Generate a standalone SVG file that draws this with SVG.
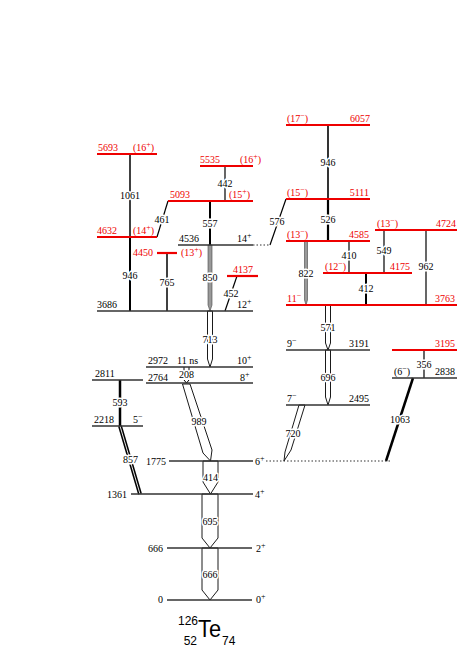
<svg xmlns="http://www.w3.org/2000/svg" width="463" height="668" viewBox="0 0 463 668">
<style>
text{font-family:"Liberation Serif","Times New Roman",serif;font-size:10px;fill:#000}
.r{fill:#e00}
.e{text-anchor:end}
.c{text-anchor:middle}
.tl{text-anchor:middle;stroke:#fff;stroke-width:3;paint-order:stroke;stroke-linejoin:round}
.sp{font-size:8px}
.lv{stroke:#333;stroke-width:1.5;fill:none}
.lr{stroke:#e00;stroke-width:2.2;fill:none}
.dt{stroke:#333;stroke-width:1.2;stroke-dasharray:1.5 2;fill:none}
.tr{stroke:#000;fill:none}
.oa{fill:#fff;stroke:#000;stroke-width:0.9;stroke-linejoin:miter}
.ga{fill:#999;stroke:#444;stroke-width:0.6}
text.ti{font-family:"Liberation Sans",Arial,sans-serif;font-size:12px}
text.tb{font-family:"Liberation Sans",Arial,sans-serif;font-size:23px}
</style>

<g id="connectors">
  <line class="tr" x1="130" y1="154" x2="130" y2="237" stroke-width="1.5"/>
  <line class="tr" x1="130" y1="237" x2="130" y2="311" stroke-width="2"/>
  <line class="tr" x1="157" y1="237" x2="168" y2="201" stroke-width="1.2"/>
  <line class="tr" x1="167" y1="253" x2="167" y2="311" stroke-width="1.5"/>
  <line class="tr" x1="210" y1="201" x2="210" y2="245" stroke-width="2"/>
  <line class="tr" x1="225" y1="166" x2="225" y2="201" stroke-width="1.2"/>
  <line class="tr" x1="237" y1="276" x2="225" y2="311" stroke-width="1.2"/>
  <line class="tr" x1="120" y1="380" x2="120" y2="426" stroke-width="2.5"/>
  <line class="tr" x1="328" y1="125" x2="328" y2="199" stroke-width="1.6"/>
  <line class="tr" x1="328" y1="199" x2="328" y2="241" stroke-width="2.2"/>
  <line class="tr" x1="270" y1="245" x2="286" y2="199" stroke-width="1.2"/>
  <line class="tr" x1="349" y1="241" x2="349" y2="273" stroke-width="1.2"/>
  <line class="tr" x1="384" y1="230" x2="384" y2="273" stroke-width="1.2"/>
  <line class="tr" x1="366" y1="273" x2="366" y2="305" stroke-width="2"/>
  <line class="tr" x1="426" y1="230" x2="426" y2="305" stroke-width="1.2"/>
  <line class="tr" x1="424" y1="350" x2="424" y2="378" stroke-width="1.2"/>
  <line class="tr" x1="413" y1="378" x2="386" y2="461" stroke-width="2.5"/>
  <line class="tr" x1="120" y1="426" x2="140" y2="494" stroke-width="4"/>
  <line x1="120" y1="426" x2="140" y2="494" stroke="#fff" stroke-width="0.9"/>
  <polygon class="ga" points="208,245 208,305 210,311 212,305 212,245"/>
  <polygon class="ga" points="304.5,241 304.5,300 306,305 307.5,300 307.5,241"/>
  <polygon class="oa" points="207.5,311 207.5,359 210,367 212.5,359 212.5,311"/>
  <polygon class="oa" points="325.5,305 325.5,343 328,350 330.5,343 330.5,305"/>
  <polygon class="oa" points="325.5,350 325.5,397 328,405 330.5,397 330.5,350"/>
  <polygon class="oa" points="203,461 203,482 210.5,494 218,482 218,461"/>
  <polygon class="oa" points="202,494 202,538 210,548 218,538 218,494"/>
  <polygon class="oa" points="202,548 202,590 210,600 218,590 218,548"/>
  <polygon class="oa" points="182.5,384 203,453 210.5,461 212,450 190,384"/>
  <polygon class="oa" points="299,405 285,452 284,461 291,450 305,405"/>
  <line class="tr" x1="184" y1="367" x2="184" y2="372" stroke-width="1"/>
  <line class="tr" x1="189" y1="367" x2="189" y2="372" stroke-width="1"/>
  <polyline class="tr" points="184,380 186.5,383 189,380" stroke-width="1"/>
  <line class="dt" x1="266" y1="461" x2="392" y2="461"/>
  <line class="dt" x1="253" y1="245" x2="270" y2="245"/>

  <text class="tl" x="130" y="199">1061</text>
  <text class="tl" x="130" y="279">946</text>
  <text class="tl" x="162" y="223">461</text>
  <text class="tl" x="167" y="286">765</text>
  <text class="tl" x="210" y="227">557</text>
  <text class="tl" x="225" y="187">442</text>
  <text class="tl" x="210" y="281">850</text>
  <text class="tl" x="231" y="297">452</text>
  <text class="tl" x="210" y="343">713</text>
  <text class="tl" x="186.5" y="378">208</text>
  <text class="tl" x="120" y="406">593</text>
  <text class="tl" x="199" y="425">989</text>
  <text class="tl" x="130.5" y="463">857</text>
  <text class="tl" x="210.5" y="481">414</text>
  <text class="tl" x="210" y="525">695</text>
  <text class="tl" x="210" y="578">666</text>
  <text class="tl" x="328" y="166">946</text>
  <text class="tl" x="328" y="223">526</text>
  <text class="tl" x="277" y="225">576</text>
  <text class="tl" x="349" y="259">410</text>
  <text class="tl" x="384" y="254">549</text>
  <text class="tl" x="426" y="270">962</text>
  <text class="tl" x="306" y="277">822</text>
  <text class="tl" x="366" y="292">412</text>
  <text class="tl" x="328" y="331">571</text>
  <text class="tl" x="328" y="381">696</text>
  <text class="tl" x="293" y="437">720</text>
  <text class="tl" x="424" y="368">356</text>
  <text class="tl" x="400" y="423">1063</text>
</g>

<g id="lvl-0"><line class="lv" x1="167" y1="600" x2="252" y2="600"/><text class="e" x="163" y="603">0</text><text x="256" y="603">0<tspan class="sp" dy="-4">+</tspan></text></g>
<g id="lvl-666"><line class="lv" x1="167" y1="548" x2="252" y2="548"/><text class="e" x="163" y="552">666</text><text x="256" y="552">2<tspan class="sp" dy="-4">+</tspan></text></g>
<g id="lvl-1361"><line class="lv" x1="131" y1="494" x2="253" y2="494"/><text class="e" x="127" y="498">1361</text><text x="255" y="498">4<tspan class="sp" dy="-4">+</tspan></text></g>
<g id="lvl-1775"><line class="lv" x1="169" y1="461" x2="253" y2="461"/><text class="e" x="166" y="465">1775</text><text x="255" y="465">6<tspan class="sp" dy="-4">+</tspan></text></g>
<g id="lvl-2218"><line class="lv" x1="92" y1="426" x2="143" y2="426"/><text x="94" y="423">2218</text><text x="133" y="423">5<tspan class="sp" dy="-4">−</tspan></text></g>
<g id="lvl-2811"><line class="lv" x1="92" y1="380" x2="143" y2="380"/><text x="95" y="377">2811</text></g>
<g id="lvl-2764"><line class="lv" x1="146" y1="383" x2="253" y2="383"/><text x="148" y="381">2764</text><text x="240" y="381">8<tspan class="sp" dy="-4">+</tspan></text></g>
<g id="lvl-2972"><line class="lv" x1="146" y1="367" x2="253" y2="367" stroke-width="2"/><text x="148" y="364">2972</text><text x="177" y="364">11 ns</text><text x="237" y="364">10<tspan class="sp" dy="-4">+</tspan></text></g>
<g id="lvl-3686"><line class="lv" x1="97" y1="311" x2="253" y2="311"/><text x="97" y="308">3686</text><text x="237" y="308">12<tspan class="sp" dy="-4">+</tspan></text></g>
<g id="lvl-4137"><line class="lr" x1="227" y1="276" x2="258" y2="276"/><text class="r" x="233" y="273">4137</text></g>
<g id="lvl-4450"><line class="lr" x1="157" y1="253" x2="177" y2="253"/><text class="r e" x="153" y="256">4450</text><text class="r" x="181" y="256">(13<tspan class="sp" dy="-4">+</tspan><tspan dy="4">)</tspan></text></g>
<g id="lvl-4536"><line class="lv" x1="178" y1="245" x2="253" y2="245"/><text x="179" y="242">4536</text><text x="237" y="242">14<tspan class="sp" dy="-4">+</tspan></text></g>
<g id="lvl-4632"><line class="lr" x1="97" y1="237" x2="157" y2="237"/><text class="r" x="97" y="234">4632</text><text class="r" x="133" y="234">(14<tspan class="sp" dy="-4">+</tspan><tspan dy="4">)</tspan></text></g>
<g id="lvl-5093"><line class="lr" x1="168" y1="201" x2="253" y2="201"/><text class="r" x="170" y="198">5093</text><text class="r" x="229" y="198">(15<tspan class="sp" dy="-4">+</tspan><tspan dy="4">)</tspan></text></g>
<g id="lvl-5535"><line class="lr" x1="200" y1="166" x2="253" y2="166"/><text class="r" x="200" y="163">5535</text><text class="r" x="240" y="163">(16<tspan class="sp" dy="-4">+</tspan><tspan dy="4">)</tspan></text></g>
<g id="lvl-5693"><line class="lr" x1="97" y1="154" x2="157" y2="154"/><text class="r" x="98" y="151">5693</text><text class="r" x="133" y="151">(16<tspan class="sp" dy="-4">+</tspan><tspan dy="4">)</tspan></text></g>

<g id="lvl-6057"><line class="lr" x1="286" y1="125" x2="370" y2="125"/><text class="r" x="287" y="122">(17<tspan class="sp" dy="-4">−</tspan><tspan dy="4">)</tspan></text><text class="r e" x="370" y="122">6057</text></g>
<g id="lvl-5111"><line class="lr" x1="286" y1="199" x2="370" y2="199"/><text class="r" x="287" y="196">(15<tspan class="sp" dy="-4">−</tspan><tspan dy="4">)</tspan></text><text class="r e" x="369" y="196">5111</text></g>
<g id="lvl-4585"><line class="lr" x1="286" y1="241" x2="370" y2="241"/><text class="r" x="287" y="238">(13<tspan class="sp" dy="-4">−</tspan><tspan dy="4">)</tspan></text><text class="r e" x="369" y="238">4585</text></g>
<g id="lvl-4724"><line class="lr" x1="375" y1="230" x2="457" y2="230"/><text class="r" x="377" y="227">(13<tspan class="sp" dy="-4">−</tspan><tspan dy="4">)</tspan></text><text class="r e" x="456" y="227">4724</text></g>
<g id="lvl-4175"><line class="lr" x1="323" y1="273" x2="412" y2="273"/><text class="r" x="325" y="270">(12<tspan class="sp" dy="-4">−</tspan><tspan dy="4">)</tspan></text><text class="r e" x="410" y="270">4175</text></g>
<g id="lvl-3763"><line class="lr" x1="286" y1="305" x2="457" y2="305"/><text class="r" x="287" y="302">11<tspan class="sp" dy="-4">−</tspan></text><text class="r e" x="455" y="302">3763</text></g>
<g id="lvl-3191"><line class="lv" x1="286" y1="350" x2="370" y2="350"/><text x="287" y="347">9<tspan class="sp" dy="-4">−</tspan></text><text class="e" x="369" y="347">3191</text></g>
<g id="lvl-2495"><line class="lv" x1="286" y1="405" x2="370" y2="405"/><text x="287" y="402">7<tspan class="sp" dy="-4">−</tspan></text><text class="e" x="369" y="402">2495</text></g>
<g id="lvl-3195"><line class="lr" x1="392" y1="350" x2="457" y2="350"/><text class="r e" x="455" y="347">3195</text></g>
<g id="lvl-2838"><line class="lv" x1="392" y1="378" x2="457" y2="378"/><text x="394" y="375">(6<tspan class="sp" dy="-4">−</tspan><tspan dy="4">)</tspan></text><text class="e" x="455" y="375">2838</text></g>

<g id="title">
  <text class="ti" x="178" y="625">126</text>
  <text class="tb" x="198" y="637" textLength="23" lengthAdjust="spacingAndGlyphs">Te</text>
  <text class="ti e" x="197" y="645">52</text>
  <text class="ti" x="222" y="645">74</text>
</g>
</svg>
